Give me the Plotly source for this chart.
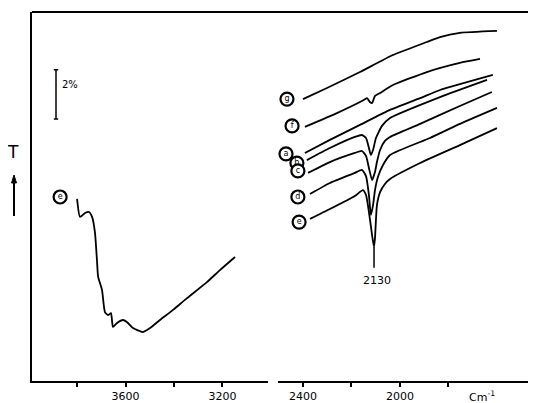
import plotly.graph_objects as go

# ---- data (wavenumber cm^-1, transmittance %, arbitrary offset) ----
left_e_w = [3800, 3788, 3767, 3751, 3738, 3726, 3718, 3713, 3697, 3685, 3672, 3660, 3652,
            3635, 3610, 3590, 3569, 3528, 3499, 3458, 3404, 3346, 3264, 3210, 3148]
left_e_T = [7.40, 6.67, 6.83, 6.87, 6.67, 6.02, 4.92, 4.23, 3.70, 2.80, 2.68, 2.76, 2.20,
            2.36, 2.48, 2.36, 2.15, 1.99, 2.15, 2.48, 2.89, 3.37, 4.02, 4.51, 5.04]

g_w = [2400, 2301, 2165, 2029, 1889, 1835, 1753, 1600]
g_T = [11.46, 11.91, 12.56, 13.25, 13.78, 13.98, 14.15, 14.23]

f_w = [2392, 2260, 2157, 2136, 2124, 2115, 2103, 2082, 2029, 1889, 1753, 1670]
f_T = [10.33, 10.89, 11.38, 11.50, 11.34, 11.30, 11.59, 11.71, 12.03, 12.56, 12.93, 13.09]

a_w = [2392, 2289, 2165, 2041, 1917, 1835, 1753, 1617]
a_T = [9.27, 9.80, 10.41, 11.02, 11.50, 11.83, 12.07, 12.44]

b_w = [2384, 2289, 2186, 2157, 2140, 2128, 2120, 2111, 2099, 2074, 2041, 1835, 1641]
b_T = [8.98, 9.47, 9.92, 10.00, 9.88, 9.47, 9.19, 9.39, 9.88, 10.37, 10.69, 11.54, 12.24]

c_w = [2379, 2289, 2186, 2157, 2140, 2128, 2115, 2103, 2095, 2082, 2062, 2041, 1917, 1753, 1621]
c_T = [8.46, 8.90, 9.27, 9.35, 9.15, 8.66, 8.17, 8.50, 8.90, 9.39, 9.76, 9.92, 10.45, 11.18, 11.75]

d_w = [2371, 2289, 2186, 2157, 2140, 2128, 2120, 2111, 2103, 2091, 2070, 2041, 1876, 1753, 1600]
d_T = [7.60, 8.05, 8.46, 8.58, 8.33, 7.56, 6.75, 7.15, 7.76, 8.29, 8.78, 9.19, 9.88, 10.45, 11.10]

e_w = [2371, 2289, 2186, 2153, 2140, 2128, 2115, 2107, 2103, 2095, 2082, 2062, 2041, 1917, 1753, 1600]
e_T = [6.59, 6.99, 7.52, 7.76, 7.56, 6.87, 5.93, 5.45, 5.81, 7.15, 7.68, 8.01, 8.21, 8.86, 9.59, 10.28]

label_letters = ["g", "f", "a", "b", "c", "d", "e"]
label_w = [2466, 2445, 2470, 2425, 2421, 2421, 2416]
label_T = [11.46, 10.37, 9.23, 8.86, 8.54, 7.48, 6.46]

left_label_w = [3870]
left_label_T = [7.48]
left_label_letters = ["e"]

left_tickvals = [3800, 3600, 3400, 3200]
left_ticktext = ["", "3600", "", "3200"]
right_tickvals = [2400, 2200, 2000, 1800]
right_ticktext = ["2400", "", "2000", ""]

peak_w = 2107
peak_label = "2130"

FONT = "DejaVu Sans"
W, H = 528, 395   # page adds an 8px body margin on top/left
line_style = dict(color="black", width=1.8, shape="spline", smoothing=0.5)

fig = go.Figure()

fig.add_trace(go.Scatter(x=left_e_w, y=left_e_T, xaxis="x", yaxis="y",
                         mode="lines", line=line_style, hoverinfo="skip"))

for w, T in [(g_w, g_T), (f_w, f_T), (a_w, a_T), (b_w, b_T),
             (c_w, c_T), (d_w, d_T), (e_w, e_T)]:
    fig.add_trace(go.Scatter(x=w, y=T, xaxis="x2", yaxis="y", mode="lines",
                             line=line_style, hoverinfo="skip"))

marker_style = dict(symbol="circle", size=13, color="white",
                    line=dict(color="black", width=2.2))
fig.add_trace(go.Scatter(x=label_w, y=label_T, xaxis="x2", yaxis="y",
                         mode="markers+text", text=label_letters,
                         textposition="middle center",
                         textfont=dict(family=FONT, size=8, color="black"),
                         marker=marker_style, hoverinfo="skip"))
fig.add_trace(go.Scatter(x=left_label_w, y=left_label_T, xaxis="x", yaxis="y",
                         mode="markers+text", text=left_label_letters,
                         textposition="middle center",
                         textfont=dict(family=FONT, size=8, color="black"),
                         marker=marker_style, hoverinfo="skip"))

axis_common = dict(showline=True, linewidth=2, linecolor="black", showgrid=False,
                   zeroline=False, ticks="outside", ticklen=4, tickwidth=1.5,
                   tickcolor="black", tickfont=dict(family=FONT, size=11, color="black"))

fig.update_layout(
    width=W, height=H,
    margin=dict(l=0, r=0, t=4, b=22),
    paper_bgcolor="white", plot_bgcolor="white",
    showlegend=False,
    font=dict(family=FONT, color="black"),
    xaxis=dict(domain=[24 / W, 260 / W], range=[3986, 3012], anchor="y",
               tickvals=left_tickvals, ticktext=left_ticktext, **axis_common),
    xaxis2=dict(domain=[270 / W, 1.0], range=[2503, 1439], anchor="y",
                tickvals=right_tickvals, ticktext=right_ticktext, **axis_common),
    yaxis=dict(domain=[0, 1], range=[0, 15], anchor="x", showline=True, linewidth=2,
               linecolor="black", showgrid=False, zeroline=False,
               showticklabels=False, ticks=""),
)

# top frame line
fig.add_shape(type="line", xref="paper", yref="paper", x0=24 / W, x1=1.0, y0=1, y1=1,
              line=dict(color="black", width=2))

# 2% scale bar (in T units)
bar_x = 48 / W
cap = 2.2 / W
fig.add_shape(type="line", xref="paper", yref="y", x0=bar_x, x1=bar_x, y0=10.65, y1=12.65,
              line=dict(color="black", width=1.5))
for yv in (10.65, 12.65):
    fig.add_shape(type="line", xref="paper", yref="y", x0=bar_x - cap, x1=bar_x + cap,
                  y0=yv, y1=yv, line=dict(color="black", width=1.5))
fig.add_annotation(text="2%", xref="paper", yref="y", x=bar_x + 4 / W, y=12.05,
                   xanchor="left", yanchor="middle", showarrow=False,
                   font=dict(family=FONT, size=10, color="black"))

# T with arrow
fig.add_annotation(text="T", xref="paper", yref="paper", x=5 / W, y=(381 - 152) / 369,
                   xanchor="center", yanchor="middle", showarrow=False,
                   font=dict(family=FONT, size=17, color="black"))
fig.add_shape(type="line", xref="paper", yref="paper", x0=6 / W, x1=6 / W,
              y0=(381 - 216) / 369, y1=(381 - 182) / 369,
              line=dict(color="black", width=2))
fig.add_shape(type="path", xref="paper", yref="paper",
              path=f"M {3.5 / W} {(381 - 183) / 369} L {8.5 / W} {(381 - 183) / 369} "
                   f"L {6 / W} {(381 - 175) / 369} Z",
              fillcolor="black", line=dict(color="black", width=1))

# 2130 marker
fig.add_shape(type="line", xref="x2", yref="y", x0=peak_w, x1=peak_w, y0=5.45, y1=4.6,
              line=dict(color="black", width=1.5))
fig.add_annotation(text=peak_label, xref="x2", yref="y", x=peak_w - 12, y=4.1,
                   showarrow=False, font=dict(family=FONT, size=11, color="black"))

# unit label
fig.add_annotation(text="Cm<sup>-1</sup>", xref="x2", yref="paper", x=1662, y=-0.015,
                   xanchor="center", yanchor="top", showarrow=False,
                   font=dict(family=FONT, size=11, color="black"))

fig.write_html("out.html")
